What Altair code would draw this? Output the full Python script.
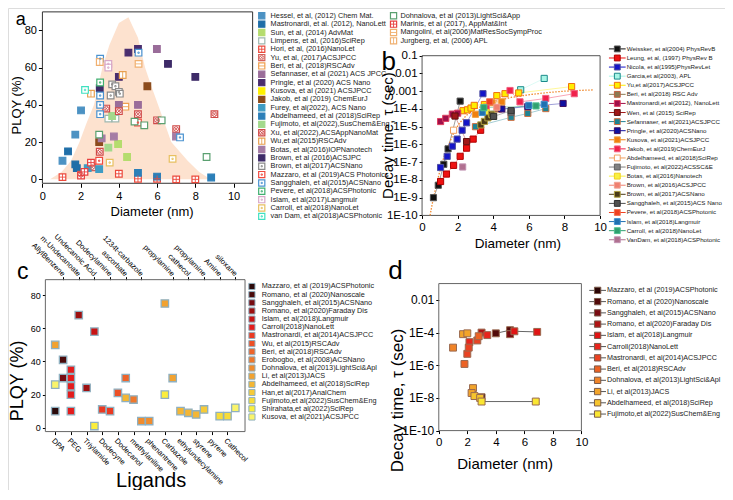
import altair as alt
import pandas as pd

# ---------------- panel a data ----------------
A_NAMES = [
    "Hessel, et al, (2012) Chem Mat.", "Mastronardi, et al. (2012), NanoLett", "Sun, et al, (2014) AdvMat",
    "Limpens, et al, (2016)SciRep", "Hori, et al, (2016)NanoLet", "Yu, et al, (2017)ACSJPCC",
    "Beri, et al, (2018)RSCAdv", "Sefannaser, et al (2021) ACS JPCC", "Pringle, et al (2020) ACS Nano",
    "Kusova, et al (2021) ACSJPCC", "Jakob, et al (2019) ChemEurJ", "Furey, et al(2022), ACS Nano",
    "Abdelhameed, et al (2018)SciRep", "Fujimoto, et al(2022),SusChem&Eng", "Xu, et al(2022),ACSAppNanoMat",
    "Wu,et al(2015)RSCAdv", "Botas, et al(2016)IOPNanotech", "Brown, et al (2016)ACSJPC",
    "Brown, et al(2017)ACSNano", "Mazzaro, et al (2019)ACS Photonics", "Sangghaleh, et al(2015)ACSNano",
    "Pevere, et al(2018)ACSPhotonic", "Islam, et al(2017)Langmuir", "Carroll, et al(2018)NanoLet",
    "van Dam, et al(2018)ACSPhotonic",
    "Dohnalova, et al (2013)LightSci&App", "Marinis, et al (2017), AppMat&Int",
    "Mangolini, et al(2006)MatResSocSympProc", "Jurgberg, et al, (2006) APL",
]
A_COLORS = [
    "#4c92c3", "#1f6ea8", "#b5dc6e", "#9fb8b0", "#ec4a3c", "#d4605a", "#f0a050", "#9a6d9a", "#4a2d6e",
    "#fff200", "#8c4b1c", "#3f9cc4", "#2c7fb8", "#a3d98c", "#d04a48", "#e8a050", "#a57ca5", "#3e2b68",
    "#8a8a8a", "#f04a40", "#4a92d0", "#40b070", "#d8a8c8", "#e8c060", "#40e0c0",
    "#5aa070", "#e84040", "#f0b070", "#f0b070",
]
A_STYLES = [
    "filled", "filled", "filled", "open", "grid", "xcirc", "hline", "filled", "filled",
    "filled", "filled", "filled", "filled", "filled", "xcirc", "vline", "filled", "filled",
    "dot", "dot", "dot", "dot", "dot", "dot", "dot",
    "open", "grid", "hline", "vline",
]
A_X = [
    [1.05, 1.72, 2.02], [1.34, 1.72, 1.8], [3.96, 4.43], [3.45, 3.82],
    [1.05, 4.0, 5.0, 6.0, 7.0, 8.0], [2.6, 2.02], [4.34], [5.99, 4.0, 5.0], [4.5, 5.0, 4.0],
    [], [5.49, 2.97], [2.37, 2.97], [5.0, 6.0, 8.83], [3.65, 3.45],
    [3.34, 4.0, 5.0, 6.0, 7.0, 9.0, 3.0], [4.2, 2.54], [3.1, 3.74, 6.99], [6.57, 8.0, 3.0],
    [3.65, 3.82, 4.0, 3.57, 4.05], [2.97, 5.0], [3.02, 5.03, 3.02, 3.02, 3.02, 7.2], [3.02],
    [3.45, 3.45], [3.52, 6.81], [2.23],
    [4.82, 5.33, 6.24, 8.59, 2.97], [2.02, 2.54, 2.2], [5.03], [3.0],
]
A_Y = [
    [10, 24, 37], [15, 8, 6], [19, 12], [32.6, 32.6],
    [1.2, 3, 0.3, 0.3, 0, 0], [6.5, 2.5], [39], [70, 40, 40], [68, 70, 55],
    [], [50, 20], [6, 5.5], [3.5, 1.5, 1], [34, 17],
    [38, 36.6, 35, 31.7, 27, 35, 14.8], [56, 46], [22, 23, 23], [62, 55, 49],
    [51, 50, 47, 45, 46], [10, 30.5], [64.8, 68, 45, 40, 35, 22.5], [52],
    [62, 60], [9, 11], [48],
    [31, 29, 31.7, 12, 24], [2, 9, 4], [62], [63],
]
A_AREA_X = [0.4, 1.0, 1.5, 1.94, 2.3, 2.7, 3.14, 3.5, 4.0, 4.5, 5.0, 5.37, 5.7, 6.05, 6.4, 6.74, 7.6, 8.2, 8.8]
A_AREA_Y = [0, 4, 10, 20, 30, 40, 60, 72, 84, 87, 76, 60, 50, 40, 30, 20, 10, 4, 0]

# ---------------- panel b data ----------------
B_NAMES = [
    "Weissker, et al(2004) PhysRevB", "Leung, et al, (1997)  PhysRev B", "Nicola, et al(1995)PhysRevLet",
    "Garcia,et al(2003), APL", "Yu,et al(2017)ACSJPCC", "Beri, et al(2018) RSC Adv",
    "Mastronardi,et al(2012), NanoLett", "Wen, et al (2015) SciRep", "Sefannaser, et al(2021)ACSJPCC",
    "Pringle, et al(2020)ACSNano", "Kusova, et al(2021)ACSJPCC", "Jakob, et al(2019)ChemEurJ",
    "Abdelhameed, et al(2018)SciRep", "Fujimoto, et al(2022)ACSSC&E", "Botas, et al(2016)Nanotech",
    "Brown, et al(2016)ACSJPCC", "Brown, et al(2017)ACSNano", "Sangghaleh, et al(2015)ACS Nano",
    "Pevere, et al(2018)ACSPhotonic", "Islam, et al(2018)Langmuir", "Carroll, et al(2018)NanoLet",
    "VanDam, et al(2018)ACSPhotonic",
]
B_FILLS = ["#111111", "#ee1111", "#1515c8", "#a8f5e6", "#ffee00", "#8c7a52", "#a0104a", "#a01818",
           "#1f8494", "#1010a0", "#f08010", "#f0204a", "#ffffff", "#808080", "#f8f040", "#f08070",
           "#4a3a18", "#505050", "#f04020", "#2070b0", "#30a070", "#b07090"]
B_STROKES = ["#555555", "#b00000", "#5050a0", "#1a8a8a", "#f07010", "#c06040", "#e04060", "#601010",
             "#d07040", "#401060", "#f0a040", "#f06080", "#f0a060", "#606060", "#f0d020", "#f0a090",
             "#b0a040", "#303030", "#f07050", "#4090d0", "#50c090", "#c090b0"]
B_X = [
    [0.64, 0.91, 1.22, 1.46, 2.14], [1.04, 1.37, 1.77, 2.14, 2.5, 2.87, 3.29],
    [1.04, 1.41, 1.7, 1.97, 2.25, 2.5, 3.42], [5.54, 6.86],
    [2.3, 2.55, 2.75, 2.93, 3.5, 4.2, 4.66, 5.43, 8.4], [4.3], [1.04, 1.33, 1.7, 2.0], [1.85, 2.5],
    [3.0, 5.0, 5.94, 6.95], [4.48, 5.94, 7.92], [3.0, 3.93, 4.48], [3.6, 4.94, 5.5, 6.95, 8.55],
    [1.77], [5.0], [3.6], [4.2], [3.3, 3.5, 3.7, 3.9, 4.0], [4.02, 5.0], [3.8],
    [3.38, 6.0, 6.86], [3.47, 6.4], [2.28],
]
B_LOGY = [
    [-9.0, -8.3, -7.12, -6.25, -3.56], [-8.09, -7.67, -7.18, -6.67, -6.21, -5.7, -5.2],
    [-7.3, -6.67, -6.1, -5.7, -5.2, -4.78, -3.14], [-2.92, -2.28],
    [-4.1, -4.05, -3.95, -3.8, -3.75, -3.25, -3.14, -3.1, -2.74], [-4.0], [-4.71, -4.53, -4.29, -4.24],
    [-4.4, -5.84], [-5.0, -4.47, -4.25, -3.98], [-4.0, -3.87, -3.69], [-4.3, -3.65, -3.6],
    [-3.9, -2.96, -3.6, -3.41, -3.14], [-5.2], [-4.2], [-4.2], [-3.9], [-4.9, -4.7, -4.5, -4.3, -4.4],
    [-4.42, -4.1], [-3.6], [-4.2, -3.8, -3.74], [-3.93, -3.83], [-7.27],
]
B_FIT_X = [0.45, 0.6, 0.8, 1.0, 1.2, 1.5, 1.8, 2.1, 2.5, 3.0, 4.0, 5.0, 6.0, 7.0, 8.0, 9.0, 9.6]
B_FIT_LOGY = [-10, -9.2, -8.3, -7.5, -6.8, -6.0, -5.3, -4.8, -4.35, -4.0, -3.6, -3.35, -3.2, -3.08, -3.0, -2.95, -2.93]

# ---------------- panel c data ----------------
C_BOTTOM_LABELS = ["DPA", "PEG", "Triylamide", "Dodecyne", "Dodecanol", "methylaniline", "phenantrene",
                   "Carbazole", "ethylundecylamine", "styrene", "pyrene", "Cathecol"]
C_BOTTOM_POS = [0, 2, 4, 6, 8, 10, 12, 14, 16, 18, 20, 22]
C_TOP_LABELS = ["AllylBenzene", "m-Undecanoate", "Undecanoic Acid", "Dodecylamine", "ascorbate",
                "1234t-carbazole", "propylamine", "cathecol", "propylamine", "Amine", "siloxane"]
C_TOP_POS = [1, 3, 5, 7, 9, 11, 15, 17, 19, 21, 23]
C_NAMES = [
    "Mazzaro, et al (2019)ACSPhotonic", "Romano, et al (2020)Nanoscale", "Sangghaleh, et al(2015)ACSNano",
    "Romano, et al(2020)Faraday Dis", "Islam, et al(2018)Langmuir", "Carroll(2018)NanoLett",
    "Mastronardi, et al(2014)ACSJPCC", "Wu, et al(2015)RSCAdv", "Beri, et al(2018)RSCAdv",
    "Erobogbo, et al(2008)ACSNano", "Dohnalova, et al(2013)LightSci&Apl", "Li, et al(2013)JACS",
    "Abdelhameed, et al(2018)SciRep", "Han,et al(2017)AnalChem", "Fujimoto,et al(2022)SusChem&Eng",
    "Shirahata,et al(2022)SciRep", "Kusova, et al(2021)ACSJPCC",
]
C_COLORS = ["#2b0a0a", "#4a0b0b", "#760c12", "#9e1010", "#c81414", "#e41c1c", "#ea3a22", "#ec5026",
            "#ee642a", "#ef782c", "#f08c2e", "#f2a230", "#f4b634", "#f6ca38", "#f8dc3a", "#fbee3c", "#faf46a"]
C_X = [[0], [1], [1], [3, 4], [5], [2, 2, 2, 2, 2], [6, 7], [8], [9], [10], [11, 12], [0, 14, 15],
       [9, 16, 17, 18], [19], [21, 22], [14, 5], [0, 23]]
C_Y = [[10], [41], [30], [68, 24], [58], [35, 30, 25, 20, 10], [11, 10], [21], [30], [17], [4, 4],
       [50, 75, 30], [18, 10, 9, 8], [11], [7, 7], [20, 1], [26, 12]]

# ---------------- panel d data ----------------
D_NAMES = [
    "Mazzaro, et al (2019)ACSPhotonic", "Romano, et al (2020)Nanoscale", "Sangghaleh, et al(2015)ACSNano",
    "Romano, et al(2020)Faraday Dis", "Islam, et al(2018)Langmuir", "Carroll(2018)NanoLett",
    "Mastronardi, et al(2014)ACSJPCC", "Beri, et al(2018)RSCAdv", "Dohnalova, et al(2013)LightSci&Apl",
    "Li, et al(2013)JACS", "Abdelhameed, et al(2018)SciRep", "Fujimoto,et al(2022)SusChem&Eng",
]
D_COLORS = ["#2b0505", "#520a0a", "#780a12", "#b01414", "#e01414", "#e8241c", "#ea4222", "#ec6224",
            "#f08428", "#f2a42a", "#f6c42e", "#fae632"]
D_X = [[3.0], [4.0, 5.0], [5.0], [3.0], [5.3, 6.9], [3.4, 2.15], [2.7, 2.0, 2.1], [1.8, 2.8], [1.0],
       [1.7, 2.0, 2.4, 2.3], [2.5, 2.9], [3.0, 6.8]]
D_Y = [[1.1e-8], [9e-5, 1.4e-4], [8e-5], [1.0e-4], [1.2e-4, 1.1e-4], [7e-5, 2.6e-5], [3.3e-5, 5e-6, 1.2e-5],
       [1.2e-6, 6e-5], [1.2e-5], [8e-5, 9e-5, 4e-8, 2e-8], [1.3e-8, 1.0e-8], [6e-9, 6e-9]]
D_LINED = [1, 4, 11]

# ---------------- layout helpers ----------------
W, H = 717, 482
OX, OY = 4.0, 3.0
SX = W / (733.0 - OX)
SY = H / (498.0 - OY)


def X(v):
    return round((v - OX) * SX, 2)


def Y(v):
    return round((v - OY) * SY, 2)


FONT = "Liberation Sans, Arial, sans-serif"


def lin(dom, a, b):
    return alt.Scale(type="linear", domain=dom, range=[a, b], nice=False, zero=False)


def lg(dom, a, b):
    return alt.Scale(type="log", domain=dom, range=[a, b], nice=False)


AXB = dict(grid=False, domain=False, labelFlush=False, labelOverlap=False, labelFont=FONT, titleFont=FONT,
           titleFontWeight="normal", labelColor="#000", titleColor="#000", tickColor="#000")


def bottom_axis(at_y, values, title, tcx, tcy, lfs, tfs, tick=4, pad=3, **kw):
    return alt.Axis(orient="bottom", offset=round(Y(at_y) - H, 2), position=0, values=values, title=title,
                    titleX=X(tcx), titleY=round(Y(tcy) - Y(at_y), 2), titleAlign="center",
                    titleBaseline="middle", labelFontSize=lfs, titleFontSize=tfs, tickSize=tick,
                    labelPadding=pad, **AXB, **kw)


def left_axis(at_x, values, lfs, tick=4, pad=2, **kw):
    return alt.Axis(orient="left", offset=-X(at_x), position=0, values=values, title=None,
                    labelFontSize=lfs, tickSize=tick, labelPadding=pad, **AXB, **kw)


def frame(xdom, ydom, xsc, ysc, xax, yax, color="#333333"):
    df = pd.DataFrame({"x0": [xdom[0]], "x1": [xdom[1]], "y0": [ydom[0]], "y1": [ydom[1]]})
    return alt.Chart(df).mark_rect(fillOpacity=0, stroke=color, strokeWidth=1).encode(
        x=alt.X("x0:Q", scale=xsc, axis=xax), x2="x1:Q",
        y=alt.Y("y0:Q", scale=ysc, axis=yax), y2="y1:Q")


OVERLAY = {
    "grid": "M-1,0H1M0,-1V1",
    "xcirc": "M-0.55,-0.55L0.55,0.55M-0.55,0.55L0.55,-0.55M0.72,0A0.72,0.72 0 1,1 -0.72,0A0.72,0.72 0 1,1 0.72,0",
    "hline": "M-1,0H1",
    "vline": "M0,-1V1",
    "dot": "M-0.2,-0.2H0.2V0.2H-0.2Z",
}


def styled_markers(df, xenc, yenc, size):
    base = alt.Chart(df).mark_point(shape="square", filled=True, size=size, opacity=1, strokeWidth=1.2).encode(
        x=xenc, y=yenc, fill=alt.Fill("fill:N", scale=None), stroke=alt.Stroke("color:N", scale=None))
    ovdf = df[df["ov"] != ""]
    ov = alt.Chart(ovdf).mark_point(filled=False, size=size, opacity=1, strokeWidth=0.9).encode(
        x=xenc, y=yenc, shape=alt.Shape("ov:N", scale=None), stroke=alt.Stroke("color:N", scale=None))
    return [base, ov]


def label_text(t, cx, cy, fs, angle=0, baseline="middle"):
    return alt.Chart(pd.DataFrame({"t": [t]})).mark_text(
        fontSize=fs, align="center", baseline=baseline, font=FONT, color="#000", angle=angle).encode(
        text="t:N", x=alt.value(X(cx)), y=alt.value(Y(cy)))


def idx_scale(n, y_first, y_last):
    return alt.Scale(domain=[0, max(n - 1, 1)], range=[Y(y_first), Y(y_last)], nice=False, zero=False)


def legend_text(names, ysc, tx, fs):
    df = pd.DataFrame({"i": list(range(len(names))), "name": names})
    return alt.Chart(df).mark_text(align="left", baseline="middle", fontSize=fs, font=FONT, color="#222").encode(
        x=alt.value(X(tx)), y=alt.Y("i:Q", scale=ysc, axis=None), text="name:N")


layers = []

# ================= panel a =================
a_xdom, a_ydom = [0, 11], [-2.1, 89.9]
a_xsc = lin(a_xdom, X(39), X(39 + 11 * 19.43))
a_ysc = lin(a_ydom, Y(183), Y(7))
area_df = pd.DataFrame({"x": A_AREA_X, "y": A_AREA_Y})
layers.append(alt.Chart(area_df).mark_area(color="#fde2cf", opacity=1).encode(
    x=alt.X("x:Q", scale=a_xsc, axis=None), y=alt.Y("y:Q", scale=a_ysc, axis=None)))
layers.append(frame(a_xdom, a_ydom, a_xsc, a_ysc,
                    bottom_axis(183, [0, 2, 4, 6, 8, 10], "Diameter (nm)", 150, 212, 11, 13, tick=4, pad=3),
                    left_axis(39, [0, 20, 40, 60, 80], 11, tick=4, pad=2)))
rows = []
for i in range(len(A_NAMES)):
    for xv, yv in zip(A_X[i], A_Y[i]):
        st = A_STYLES[i]
        rows.append({"x": xv, "y": yv, "color": A_COLORS[i],
                     "fill": A_COLORS[i] if st == "filled" else "#ffffff",
                     "ov": OVERLAY.get(st, "")})
adf = pd.DataFrame(rows)
layers += styled_markers(adf, alt.X("x:Q", scale=a_xsc, axis=None), alt.Y("y:Q", scale=a_ysc, axis=None), 44)
layers.append(label_text("a", 17, 20.5, 18, baseline="alphabetic"))
layers.append(label_text("PLQY (%)", 13, 103, 13, angle=270))

# legend a (two columns)
leg_rows = []
for i in range(len(A_NAMES)):
    st = A_STYLES[i]
    leg_rows.append({"i": i if i < 25 else i - 25, "col": 0 if i < 25 else 1, "name": A_NAMES[i],
                     "color": A_COLORS[i], "fill": A_COLORS[i] if st == "filled" else "#ffffff",
                     "ov": OVERLAY.get(st, "")})
ldf = pd.DataFrame(leg_rows)
l1 = ldf[ldf["col"] == 0]
l2 = ldf[ldf["col"] == 1]
sc1 = idx_scale(25, 11, 217)
sc2 = idx_scale(4, 11, 11 + 3 * 8.58)
layers += styled_markers(l1, alt.value(X(262)), alt.Y("i:Q", scale=sc1, axis=None), 38)
layers.append(legend_text(list(l1["name"]), sc1, 271, 7.3))
layers += styled_markers(l2, alt.value(X(396)), alt.Y("i:Q", scale=sc2, axis=None), 38)
layers.append(legend_text(list(l2["name"]), sc2, 403, 7.3))

# ================= panel b =================
LOG_LABEL = "datum.value >= 0.001 ? '' + datum.value : '1E' + round(log(datum.value) / LN10)"
b_xdom, b_ydom = [0, 10], [1e-10, 0.1]
b_xsc = lin(b_xdom, X(425), X(606))
b_ysc = lg(b_ydom, Y(216), Y(52))
layers.append(frame(b_xdom, b_ydom, b_xsc, b_ysc,
                    bottom_axis(216, [0, 2, 4, 6, 8, 10], "Diameter (nm)", 522, 245, 11.5, 13.5, tick=3, pad=3),
                    left_axis(425, [1e-10, 1e-9, 1e-8, 1e-7, 1e-6, 1e-5, 1e-4, 1e-3, 1e-2, 1e-1],
                              11.5, tick=3, pad=2, labelExpr=LOG_LABEL),
                    color="#555555"))
brows = []
for i in range(len(B_NAMES)):
    for xv, ly in zip(B_X[i], B_LOGY[i]):
        brows.append({"s": i, "x": xv, "y": 10 ** ly, "fill": B_FILLS[i], "stroke": B_STROKES[i],
                      "lc": B_STROKES[i] if B_FILLS[i] == "#ffffff" else B_FILLS[i]})
bdf = pd.DataFrame(brows)
bx = alt.X("x:Q", scale=b_xsc, axis=None)
by = alt.Y("y:Q", scale=b_ysc, axis=None)
layers.append(alt.Chart(bdf).mark_line(strokeWidth=0.8, opacity=0.5).encode(
    x=bx, y=by, detail="s:N", color=alt.Color("lc:N", scale=None)))
fit_df = pd.DataFrame({"x": B_FIT_X, "y": [10 ** v for v in B_FIT_LOGY]})
layers.append(alt.Chart(fit_df).mark_line(strokeDash=[1.5, 1.5], color="#f08a30", strokeWidth=1.3).encode(
    x=bx, y=by))
layers.append(alt.Chart(bdf).mark_point(shape="square", filled=True, size=38, opacity=1, strokeWidth=1).encode(
    x=bx, y=by, fill=alt.Fill("fill:N", scale=None), stroke=alt.Stroke("stroke:N", scale=None)))
layers.append(label_text("b", 391, 67, 26, baseline="alphabetic"))
layers.append(label_text("Decay time, τ (sec)", 390, 134, 15, angle=270))

# legend b
lb = pd.DataFrame({"i": list(range(len(B_NAMES))), "name": B_NAMES, "fill": B_FILLS, "stroke": B_STROKES,
                   "lc": [s if f == "#ffffff" else f for f, s in zip(B_FILLS, B_STROKES)]})
scb = idx_scale(len(B_NAMES), 45, 241)
layers.append(alt.Chart(lb).mark_rule(strokeWidth=1).encode(
    x=alt.value(X(615)), x2=alt.value(X(632)), y=alt.Y("i:Q", scale=scb, axis=None),
    color=alt.Color("lc:N", scale=None)))
layers.append(alt.Chart(lb).mark_point(shape="square", filled=True, size=34, opacity=1, strokeWidth=1).encode(
    x=alt.value(X(623.5)), y=alt.Y("i:Q", scale=scb, axis=None),
    fill=alt.Fill("fill:N", scale=None), stroke=alt.Stroke("stroke:N", scale=None)))
layers.append(legend_text(B_NAMES, scb, 633, 6.2))

# ================= panel c =================
c_xdom, c_ydom = [-1.26, 24.24], [-2.35, 89.4]
c_xsc = lin(c_xdom, X(42), X(245))
c_ysc = lin(c_ydom, Y(438), Y(282))
bot_arr = [""] * 24
for p, n in zip(C_BOTTOM_POS, C_BOTTOM_LABELS):
    bot_arr[p] = n
top_arr = [""] * 24
for p, n in zip(C_TOP_POS, C_TOP_LABELS):
    top_arr[p] = n
bot_expr = "[" + ",".join("'" + s + "'" for s in bot_arr) + "][datum.value]"
top_expr = "[" + ",".join("'" + s + "'" for s in top_arr) + "][datum.value]"
layers.append(frame(c_xdom, c_ydom, c_xsc, c_ysc,
                    bottom_axis(438, C_BOTTOM_POS, "Ligands", 149, 488, 7.5, 20, tick=3, pad=2,
                                labelExpr=bot_expr, labelAngle=45, labelAlign="left", labelBaseline="top"),
                    left_axis(42, [0, 20, 40, 60, 80], 9, tick=3, pad=2),
                    color="#666666"))
crows = []
for i in range(len(C_NAMES)):
    for xv, yv in zip(C_X[i], C_Y[i]):
        crows.append({"x": xv, "y": yv, "color": C_COLORS[i]})
cdf = pd.DataFrame(crows)
top_ax = alt.Axis(orient="top", offset=-Y(282), position=0, values=C_TOP_POS, title=None,
                  labelExpr=top_expr, labelAngle=45, labelAlign="right", labelBaseline="middle",
                  labelFontSize=7.5, tickSize=3, labelPadding=2, **AXB)
layers.append(alt.Chart(cdf).mark_point(shape="square", filled=True, size=55, opacity=1, strokeWidth=1.3).encode(
    x=alt.X("x:Q", scale=c_xsc, axis=top_ax), y=alt.Y("y:Q", scale=c_ysc, axis=None),
    fill=alt.Fill("color:N", scale=None), stroke=alt.value("#8fb0c0")))
layers.append(label_text("c", 19, 281, 23, baseline="alphabetic"))
layers.append(label_text("PLQY (%)", 14, 386, 18, angle=270))

# legend c
lc = pd.DataFrame({"i": list(range(len(C_NAMES))), "name": C_NAMES, "color": C_COLORS})
scc = idx_scale(len(C_NAMES), 289, 423)
layers.append(alt.Chart(lc).mark_point(shape="square", filled=True, size=38, opacity=1, strokeWidth=1).encode(
    x=alt.value(X(252)), y=alt.Y("i:Q", scale=scc, axis=None),
    fill=alt.Fill("color:N", scale=None), stroke=alt.value("#8fb0c0")))
layers.append(legend_text(C_NAMES, scc, 262, 7.3))

# ================= panel d =================
d_xdom, d_ydom = [0, 10], [1e-10, 0.1]
d_xsc = lin(d_xdom, X(442), X(587))
d_ysc = lg(d_ydom, Y(437), Y(286))
layers.append(frame(d_xdom, d_ydom, d_xsc, d_ysc,
                    bottom_axis(437, [0, 2, 4, 6, 8, 10], "Diameter (nm)", 509, 471, 11.5, 15, tick=3, pad=3),
                    left_axis(442, [1e-10, 1e-8, 1e-6, 1e-4, 1e-2], 12, tick=3, pad=2, labelExpr=LOG_LABEL),
                    color="#666666"))
drows = []
for i in range(len(D_NAMES)):
    for xv, yv in zip(D_X[i], D_Y[i]):
        drows.append({"s": i, "x": xv, "y": yv, "color": D_COLORS[i], "lined": i in D_LINED})
ddf = pd.DataFrame(drows)
dx = alt.X("x:Q", scale=d_xsc, axis=None)
dy = alt.Y("y:Q", scale=d_ysc, axis=None)
layers.append(alt.Chart(ddf[ddf["lined"]]).mark_line(strokeWidth=1, color="#666666").encode(
    x=dx, y=dy, detail="s:N"))
layers.append(alt.Chart(ddf).mark_point(shape="square", filled=True, size=48, opacity=1, strokeWidth=1).encode(
    x=dx, y=dy, fill=alt.Fill("color:N", scale=None), stroke=alt.value("#9a6a50")))
layers.append(label_text("d", 398, 281, 26, baseline="alphabetic"))
layers.append(label_text("Decay time, τ (sec)", 401, 406, 17, angle=270))

# legend d
ld = pd.DataFrame({"i": list(range(len(D_NAMES))), "name": D_NAMES, "color": D_COLORS})
scd = idx_scale(len(D_NAMES), 293, 420)
layers.append(alt.Chart(ld).mark_rule(strokeWidth=1, color="#555555").encode(
    x=alt.value(X(595)), x2=alt.value(X(612)), y=alt.Y("i:Q", scale=scd, axis=None)))
layers.append(alt.Chart(ld).mark_point(shape="square", filled=True, size=40, opacity=1, strokeWidth=1).encode(
    x=alt.value(X(603.5)), y=alt.Y("i:Q", scale=scd, axis=None),
    fill=alt.Fill("color:N", scale=None), stroke=alt.value("#7a5a4a")))
layers.append(legend_text(D_NAMES, scd, 613, 7.2))

chart = alt.layer(*layers).resolve_scale(x="independent", y="independent").properties(
    width=W, height=H, autosize=alt.AutoSizeParams(type="none"), padding=0, background="#ffffff"
).configure_view(stroke=None).configure(font=FONT)

chart.save("out.html", embed_options={"renderer": "svg", "actions": False})
